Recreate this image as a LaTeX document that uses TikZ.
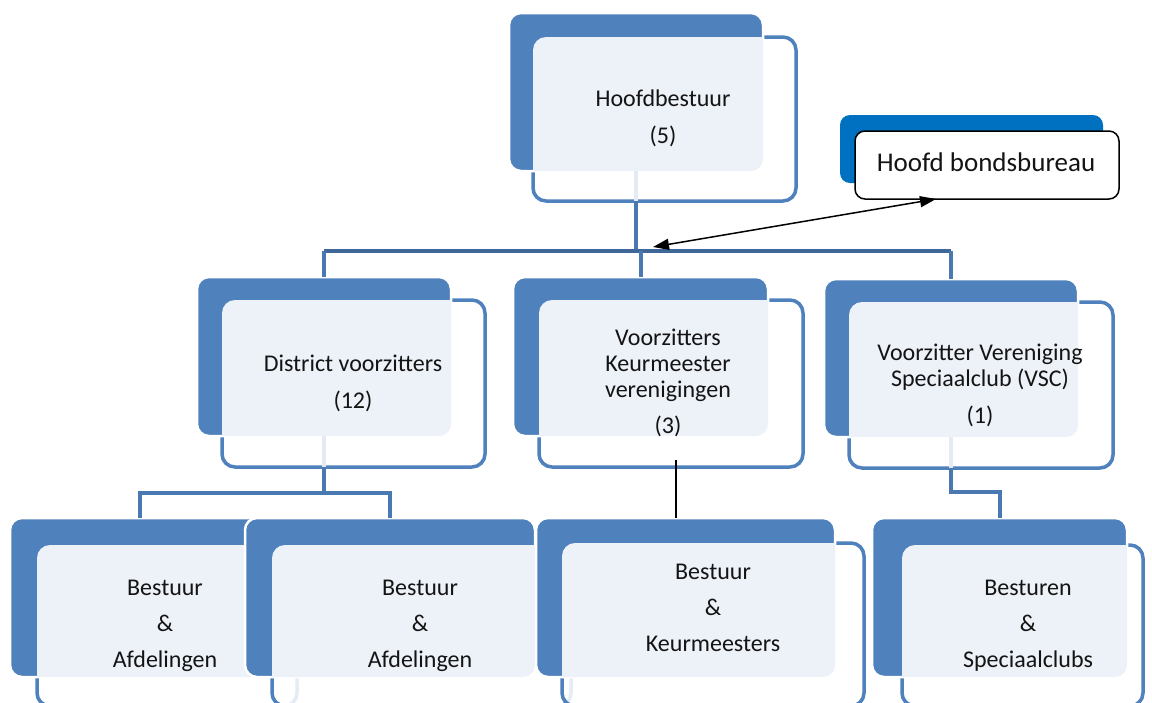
\documentclass[tikz,border=0pt]{standalone}
\usepackage{fontspec}
\setmainfont{Carlito}
\usetikzlibrary{arrows.meta}
\definecolor{accent}{HTML}{4F81BD}
\definecolor{lightfill}{HTML}{EDF1F8}
\definecolor{busdark}{HTML}{3F6898}
\definecolor{busblue}{HTML}{4A78B0}
\definecolor{ghostblue}{HTML}{E4EBF5}
\definecolor{bureau}{HTML}{0070C0}
\definecolor{ink}{HTML}{141414}
\tikzset{
  frontbox/.style={draw=accent, fill=white, fill opacity=0.85, line width=3.5pt, rounded corners=13pt},
  backbox/.style={fill=accent, draw=white, line width=2.5pt, rounded corners=12pt},
  overlapfill/.style={fill=lightfill, rounded corners=12pt},
  boxtext/.style={align=center, font=\fontsize{24}{26}\selectfont, text=ink, inner sep=0pt},
  busline/.style={draw=busblue, line width=4pt},
  busbar/.style={draw=busdark, line width=4pt},
  ghostline/.style={draw=ghostblue, line width=4pt},
  linkline/.style={draw=black, line width=1.5pt},
}
\newcommand{\OrgBox}[9]{%
  \draw[frontbox] (#6,#7) rectangle (#8,#9);
  \path[backbox] (#2,#3) rectangle (#4,#5);
  \begin{scope}
    \clip[rounded corners=13pt] (#6,#7) rectangle (#8,#9);
    \fill[overlapfill] (#2,#3) rectangle (#4,#5);
  \end{scope}
  \coordinate (#1-top) at ({(#2+#4)/2},#3);
  \coordinate (#1-in) at ({(#2+#4)/2},#5);
  \coordinate (#1-bot) at ({(#2+#4)/2},#9);
}
\begin{document}
\begin{tikzpicture}[x=1pt,y=-1pt]
\useasboundingbox (0,0) rectangle (1152,702);
\clip (0,0) rectangle (1152,702);
\fill[white] (0,0) rectangle (1152,702);

% top box
\OrgBox{hb}{509}{13}{763}{171}{533}{37}{796}{201}
\node[boxtext] (hbt) at (663,118) {Hoofdbestuur\\[11pt](5)};

% Hoofd bondsbureau
\fill[bureau, rounded corners=10pt] (840,115) rectangle (1103,183);
\draw[draw=black, fill=white, line width=1.5pt, rounded corners=10pt] (855,131) rectangle (1119,199);
\node[font=\fontsize{27}{30}\selectfont, text=ink, inner sep=0pt] (hbb) at (986,162) {Hoofd bondsbureau};

% middle row
\OrgBox{dv}{197}{277}{451}{436}{222}{300}{485}{467}
\node[boxtext] (dvt) at (353,383) {District voorzitters\\[11pt](12)};
\OrgBox{kv}{513}{277}{768}{436}{539}{300}{803}{467}
\node[boxtext] (kvt) at (668,383) {Voorzitters\\Keurmeester\\verenigingen\\[10pt](3)};
\OrgBox{vs}{824}{279}{1078}{437}{849}{302}{1113}{468}
\node[boxtext] (vst) at (980,385) {Voorzitter Vereniging\\Speciaalclub (VSC)\\[11pt](1)};

% bottom row
\OrgBox{ba}{10}{518}{270}{677}{37}{545}{297}{706}
\node[boxtext] (bat) at (165,626) {Bestuur\\[10pt]\&\\[10pt]Afdelingen};
\OrgBox{bb}{245}{518}{535}{677}{272}{545}{571}{706}
\node[boxtext] (bbt) at (420,626) {Bestuur\\[10pt]\&\\[10pt]Afdelingen};
\OrgBox{bc}{536}{518}{835}{677}{562}{543}{864}{706}
\node[boxtext] (bct) at (713,608) {Bestuur\\[10pt]\&\\[10pt]Keurmeesters};
\OrgBox{bd}{872}{518}{1127}{677}{902}{545}{1143}{706}
\node[boxtext] (bdt) at (1028,626) {Besturen\\[10pt]\&\\[10pt]Speciaalclubs};

% ghost traces of connectors inside boxes
\draw[ghostline] (hb-in) -- (hb-bot);
\draw[ghostline] (dv-in) -- (dv-bot);
\draw[ghostline] (vs-in) -- (vs-bot);

% connectors top -> middle
\coordinate (bus) at (0,251);
\draw[busline] (hb-bot) -- (hb-bot |- bus) -- ([yshift=18pt]hb-bot |- bus);
\draw[busbar] (dv-top |- bus) -- (vs-top |- bus);
\draw[busline] (dv-top |- bus) -- (dv-top);
\draw[busline] (kv-top |- bus) -- (kv-top);
\draw[busline] (vs-top |- bus) -- (vs-top);

% district -> bottom
\coordinate (lbus) at (0,493);
\draw[busline] (dv-bot) -- (dv-bot |- lbus);
\draw[busline] (ba-top) -- (ba-top |- lbus) -- (bb-top |- lbus) -- (bb-top);

% vsc -> bottom
\coordinate (rbus) at (0,492);
\draw[busline] (vs-bot) -- (vs-bot |- rbus) -- (bd-top |- rbus) -- (bd-top);

% keurmeester -> bottom (thin black)
\coordinate (kvlink) at (676,460);
\draw[linkline] (kvlink) -- (kvlink |- bc-top);

% double arrow
\coordinate (arrA) at (653,247);
\coordinate (arrB) at (936,199);
\draw[line width=1.5pt, {Triangle[length=16pt,width=11pt]}-{Triangle[length=16pt,width=11pt]}] (arrA) -- (arrB);
\end{tikzpicture}
\end{document}
